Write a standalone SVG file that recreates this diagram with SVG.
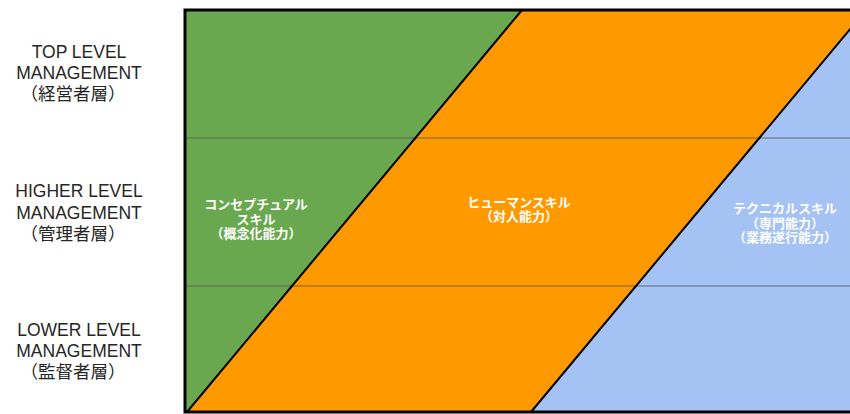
<svg xmlns="http://www.w3.org/2000/svg" width="850" height="414" viewBox="0 0 850 414">
<style>
.lbl{font-family:"Liberation Sans","Noto Sans CJK JP",sans-serif;font-size:17.5px;fill:#262626;text-anchor:middle}
.in{font-family:"Liberation Sans","Noto Sans CJK JP",sans-serif;font-size:13px;font-weight:bold;fill:#ffffff;text-anchor:middle}
.div{stroke:#000;stroke-width:2}
.row{stroke:#555;stroke-opacity:0.55;stroke-width:1.5}
</style>
<rect width="850" height="414" fill="#ffffff"/>
<g id="conceptual">
<polygon points="185,10 522,10 187,412 185,412" fill="#6aa84f"/>
<text class="in" x="256" y="209">コンセプチュアル</text>
<text class="in" x="256" y="223.5">スキル</text>
<text class="in" x="256" y="238">（概念化能力）</text>
</g>
<g id="human">
<polygon points="522,10 866,10 531,412 187,412" fill="#ff9900"/>
<text class="in" x="519" y="207">ヒューマンスキル</text>
<text class="in" x="519" y="221">（対人能力）</text>
</g>
<g id="technical">
<polygon points="866,10 872,10 872,412 531,412" fill="#a4c2f4"/>
<text class="in" x="785" y="213">テクニカルスキル</text>
<text class="in" x="785" y="227.5">（専門能力）</text>
<text class="in" x="785" y="242">（業務遂行能力）</text>
</g>
<g id="connectors">
<line class="row" x1="185" y1="138" x2="850" y2="138"/>
<line class="row" x1="185" y1="286" x2="850" y2="286"/>
<line class="div" x1="522" y1="10" x2="187" y2="412"/>
<line class="div" x1="866" y1="10" x2="531" y2="412"/>
<rect x="185" y="10" width="690" height="402" fill="none" stroke="#000" stroke-width="3"/>
</g>
<g id="top">
<text class="lbl" x="79" y="58">TOP LEVEL</text>
<text class="lbl" x="79" y="79">MANAGEMENT</text>
<text class="lbl" x="73" y="100">（経営者層）</text>
</g>
<g id="higher">
<text class="lbl" x="79" y="197">HIGHER LEVEL</text>
<text class="lbl" x="79" y="219">MANAGEMENT</text>
<text class="lbl" x="73" y="240">（管理者層）</text>
</g>
<g id="lower">
<text class="lbl" x="79" y="336">LOWER LEVEL</text>
<text class="lbl" x="79" y="357">MANAGEMENT</text>
<text class="lbl" x="73" y="378">（監督者層）</text>
</g>
</svg>
